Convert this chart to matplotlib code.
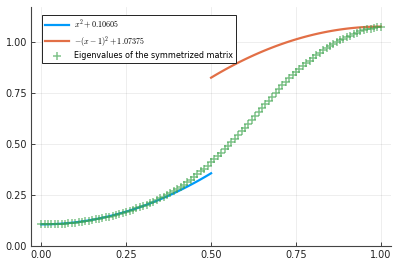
import numpy as np
import matplotlib
matplotlib.use("Agg")
import matplotlib.pyplot as plt

# eigenvalues, one per index on a 0..1 grid
eig_values = [
    0.106, 0.106, 0.106, 0.107, 0.107, 0.108, 0.109, 0.110, 0.112, 0.113,
    0.115, 0.117, 0.119, 0.121, 0.124, 0.127, 0.130, 0.133, 0.137, 0.140,
    0.144, 0.148, 0.152, 0.157, 0.162, 0.167, 0.172, 0.178, 0.184, 0.190,
    0.196, 0.203, 0.210, 0.217, 0.225, 0.233, 0.241, 0.250, 0.259, 0.268,
    0.278, 0.289, 0.300, 0.312, 0.324, 0.337, 0.351, 0.365, 0.379, 0.394,
    0.409, 0.425, 0.441, 0.457, 0.474, 0.491, 0.508, 0.525, 0.543, 0.561,
    0.579, 0.598, 0.617, 0.636, 0.655, 0.674, 0.693, 0.712, 0.731, 0.750,
    0.769, 0.786, 0.803, 0.820, 0.836, 0.851, 0.866, 0.880, 0.894, 0.907,
    0.920, 0.933, 0.945, 0.957, 0.968, 0.979, 0.989, 0.998, 1.006, 1.014,
    1.022, 1.030, 1.037, 1.044, 1.050, 1.055, 1.060, 1.064, 1.068, 1.071,
    1.074,
]
eig_x = np.linspace(0, 1, len(eig_values))

# the two fitted parabolas named in the legend
low_shift = 0.10605
high_shift = 1.07375
low_x = np.linspace(0, 0.5, 60)
high_x = np.linspace(0.5, 1, 60)

x_ticks = [0.0, 0.25, 0.5, 0.75, 1.0]
y_ticks = [0.0, 0.25, 0.5, 0.75, 1.0]

plt.rcParams["mathtext.fontset"] = "cm"
plt.rcParams["font.family"] = "DejaVu Sans"

fig = plt.figure(figsize=(3.99, 2.66), dpi=100)
ax = fig.add_axes([0.078, 0.075, 0.902, 0.899])

ax.plot(low_x, low_x**2 + low_shift, color="#009AFA", linewidth=1.6,
        label=r"$x^2 + 0.10605$", zorder=3)
ax.plot(high_x, -(high_x - 1)**2 + high_shift, color="#E26F46", linewidth=1.6,
        label=r"$-(x-1)^2 + 1.07375$", zorder=3)
ax.plot(eig_x, eig_values, linestyle="none", marker="+", markersize=5.5,
        markeredgewidth=1.1, color="#3EA44E", alpha=0.65,
        label="Eigenvalues of the symmetrized matrix", zorder=4)

ax.set_xlim(-0.03, 1.03)
ax.set_ylim(0, 1.17)
ax.set_xticks(x_ticks)
ax.set_yticks(y_ticks)
ax.set_xticklabels([f"{t:.2f}" for t in x_ticks])
ax.set_yticklabels([f"{t:.2f}" for t in y_ticks])
ax.tick_params(direction="in", length=3, width=0.6, labelsize=7, colors="#222222", pad=3)
ax.grid(True, color="#000000", alpha=0.08, linewidth=0.6)
ax.set_axisbelow(True)
for side in ("top", "right"):
    ax.spines[side].set_visible(False)
for side in ("left", "bottom"):
    ax.spines[side].set_color("#444444")
    ax.spines[side].set_linewidth(0.8)

leg = ax.legend(loc="upper left", bbox_to_anchor=(0.03, 0.967), fontsize=5.8,
                frameon=True, fancybox=False, borderpad=0.35, labelspacing=0.35,
                handlelength=3.0, handletextpad=0.6, borderaxespad=0.0)
leg.get_frame().set_edgecolor("#222222")
leg.get_frame().set_linewidth(0.7)
leg.get_frame().set_alpha(1.0)

fig.savefig("out.png", dpi=100)
